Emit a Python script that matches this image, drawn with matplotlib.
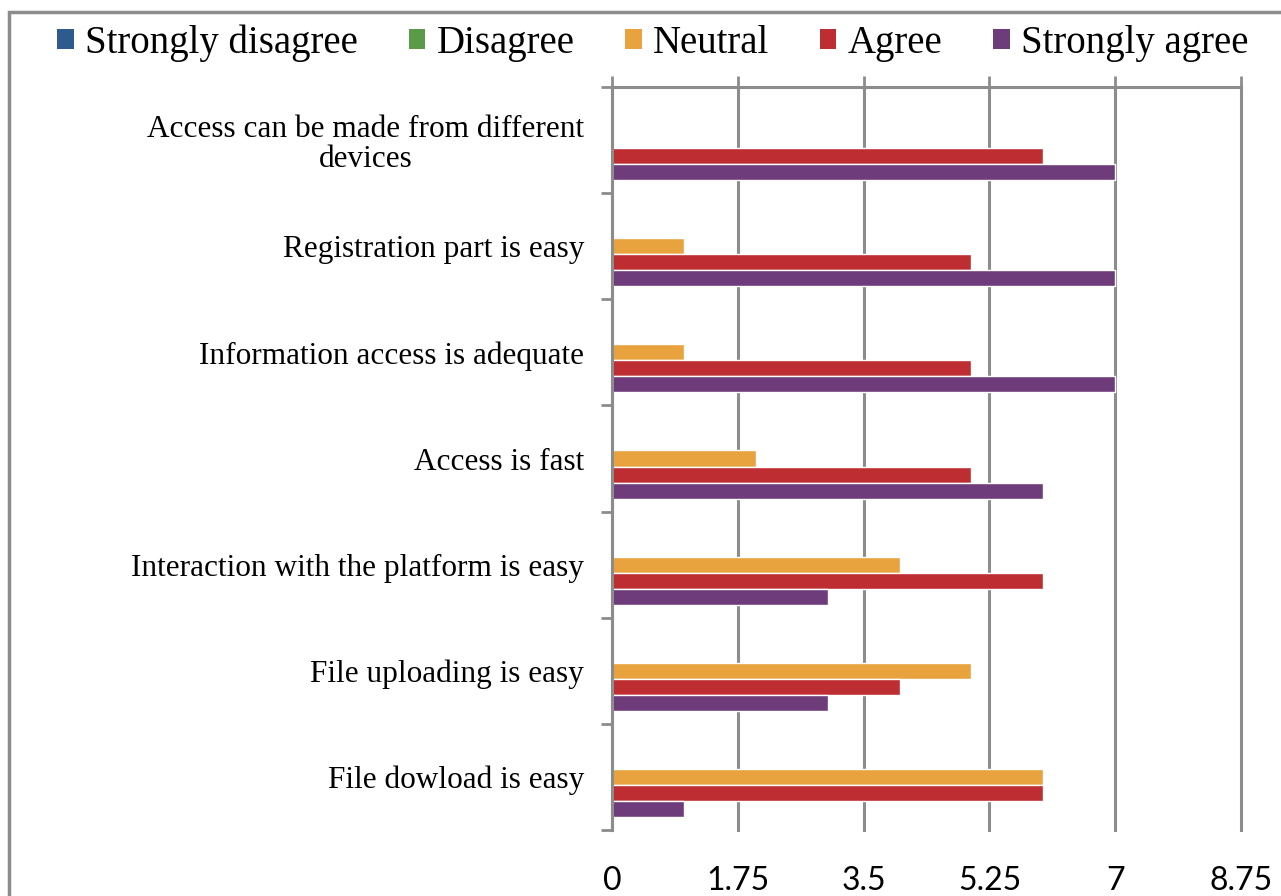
import numpy as np
import matplotlib
matplotlib.use("Agg")
import matplotlib.pyplot as plt
from matplotlib.patches import Rectangle, Patch

categories = [
    "Access can be made from different\ndevices",
    "Registration part is easy",
    "Information access is adequate",
    "Access is fast",
    "Interaction with the platform is easy",
    "File uploading is easy",
    "File dowload is easy",
]
series_names = ["Strongly disagree", "Disagree", "Neutral", "Agree", "Strongly agree"]
strongly_disagree = [0, 0, 0, 0, 0, 0, 0]
disagree = [0, 0, 0, 0, 0, 0, 0]
neutral = [0, 1, 1, 2, 4, 5, 6]
agree = [6, 5, 5, 5, 6, 4, 6]
strongly_agree = [7, 7, 7, 6, 3, 3, 1]
x_ticks = [0, 1.75, 3.5, 5.25, 7, 8.75]
x_tick_labels = ["0", "1.75", "3.5", "5.25", "7", "8.75"]

colors = ["#2E5B8E", "#5B9A48", "#E8A33E", "#BE2D31", "#6E3C7A"]
grid_c = "#8C8C8C"
serif = "Liberation Serif"

fig = plt.figure(figsize=(12.81, 8.96), dpi=100)
ax = fig.add_axes([612 / 1281, 1 - 830 / 896, (1241 - 612) / 1281, (830 - 87) / 896])

data = [strongly_disagree, disagree, neutral, agree, strongly_agree]
y = np.arange(len(categories))
h = 0.151
for j, (vals, c) in enumerate(zip(data, colors)):
    ax.barh(y + (j - 2) * h, vals, height=h, color=c, edgecolor="white",
            linewidth=1.0, zorder=2)

ax.set_xlim(0, 8.75)
ax.set_ylim(len(categories) - 0.5, -0.5)

ax.set_xticks(x_ticks)
ax.set_xticklabels(x_tick_labels, fontfamily="Lato", fontsize=23)
ax.tick_params(axis="x", top=True, bottom=False, labeltop=False, labelbottom=True,
               direction="out", length=8, width=2, color=grid_c, pad=18)
ax.grid(axis="x", color=grid_c, linewidth=2.2, zorder=0)
ax.set_axisbelow(True)
for gl in ax.get_xgridlines():
    gl.set_clip_on(False)

ax.set_yticks(y)
ax.set_yticklabels(categories, fontfamily=serif, fontsize=22.5, multialignment="center",
                   linespacing=1.05)
ax.set_yticks(np.arange(len(categories) + 1) - 0.5, minor=True)
ax.tick_params(axis="y", which="major", length=0, pad=20)
ax.tick_params(axis="y", which="minor", length=8, width=2, color=grid_c, direction="out")

for s in ["right", "bottom"]:
    ax.spines[s].set_visible(False)
for s in ["left", "top"]:
    ax.spines[s].set_color(grid_c)
    ax.spines[s].set_linewidth(2.2)
    ax.spines[s].set_zorder(3)

handles = [Patch(facecolor=c, edgecolor="none") for c in colors]
fig.legend(handles, series_names, loc="center", bbox_to_anchor=(653 / 1281, 1 - 43 / 896),
           ncol=5, frameon=False, prop={"family": serif, "size": 28},
           handlelength=0.42, handleheight=0.42, handletextpad=0.3, columnspacing=1.3)

fig.patches.append(Rectangle((9 / 1281, -0.2), 1.2, 1.2 - 12 / 896,
                             transform=fig.transFigure, fill=False,
                             edgecolor="#8C8C8C", linewidth=2.5))

fig.savefig("out.png", dpi=100)
